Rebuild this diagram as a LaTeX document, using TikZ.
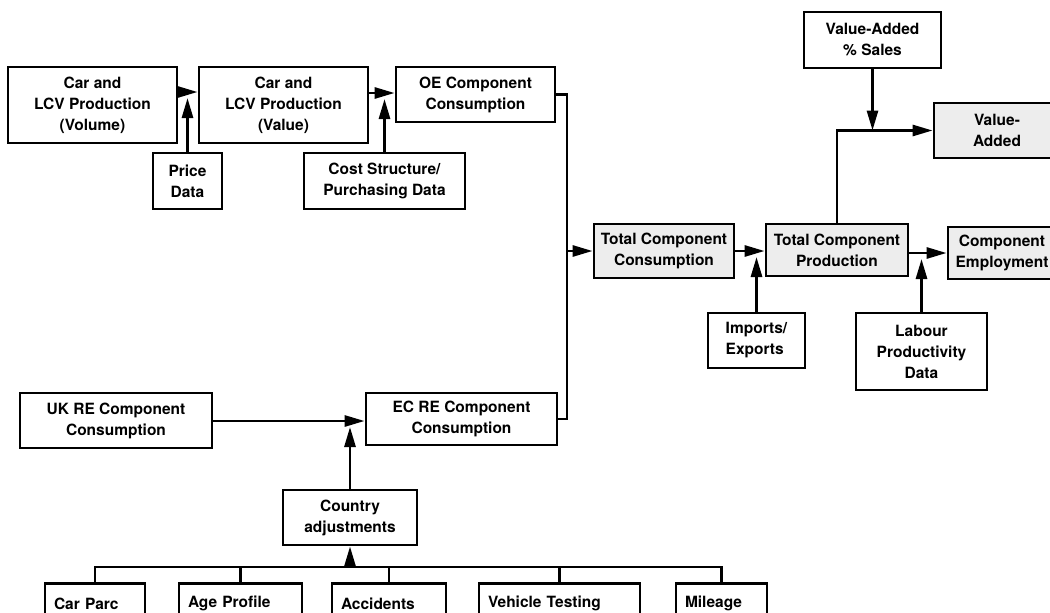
\documentclass[tikz,border=0pt]{standalone}
\usepackage{fontspec}
\setmainfont{TeX Gyre Heros}
\usetikzlibrary{arrows.meta}

\begin{document}
\begin{tikzpicture}[x=1pt,y=-1pt,
    box/.style={draw,line width=2.8pt,align=center,inner sep=1pt,
      font=\bfseries\fontsize{15.5}{21}\selectfont},
    shaded/.style={box,fill=black!7},
    leaf/.style={box,anchor=north,align=left,inner xsep=9pt,minimum height=40pt},
    link/.style={line width=2.8pt},
    arr/.style={line width=2.8pt,-{Triangle[length=20pt,width=11pt]}}]
    \useasboundingbox (0,0) rectangle (1050,613);
    \clip (0,0) rectangle (1050,613);

    % 上排：产量与价值
    \node [box,minimum width=169pt,minimum height=76pt] (vol) at (92.5,105) {Car and\\LCV Production\\(Volume)};
    \node [box,minimum width=169pt,minimum height=76pt] (val) at (283.5,105) {Car and\\LCV Production\\(Value)};
    \node [box,minimum width=159pt,minimum height=55pt] (oe) at (475.5,94.5) {OE Component\\Consumption};
    \node [box,minimum width=69pt,minimum height=56pt] (price) at (187.5,181) {Price\\Data};
    \node [box,minimum width=161pt,minimum height=56pt] (cost) at (384.5,181) {Cost Structure/\\Purchasing Data};

    % 中排：总量
    \node [shaded,minimum width=140pt,minimum height=54pt] (tcons) at (664,251) {Total Component\\Consumption};
    \node [shaded,minimum width=142pt,minimum height=52pt] (tprod) at (837,250) {Total Component\\Production};
    \node [shaded,minimum width=108pt,minimum height=52pt] (cemp) at (1002,253) {Component\\Employment};
    \node [shaded,minimum width=126pt,minimum height=55pt] (vadd) at (997,130.5) {Value-\\Added};
    \node [box,minimum width=137pt,minimum height=56pt] (vas) at (872.5,40) {Value-Added\\\% Sales};
    \node [box,align=left,minimum width=97pt,minimum height=55pt] (imp) at (756.5,340.5) {Imports/\\Exports};
    \node [box,minimum width=131pt,minimum height=77pt] (lab) at (921.5,351.5) {Labour\\Productivity\\Data};

    % 下排：售后市场
    \node [box,minimum width=192pt,minimum height=55pt] (uk) at (116,420.5) {UK RE Component\\Consumption};
    \node [box,minimum width=191pt,minimum height=52pt] (ec) at (461.5,419) {EC RE Component\\Consumption};
    \node [box,minimum width=134pt,minimum height=55pt] (ctry) at (350,517.5) {Country\\adjustments};

    % 底部数据框
    \node [leaf,text width=82pt] (parc) at (95,582) {Car Parc};
    \node [leaf,text width=105pt] (age) at (240.5,582) {Age Profile};
    \node [leaf,text width=96pt] (acc) at (389,582) {Accidents};
    \node [leaf,text width=143pt] (test) at (559.5,582) {Vehicle Testing};
    \node [leaf,text width=73pt] (mile) at (721.5,582) {Mileage};

    % 接入点
    \coordinate (p1) at (187.5,92);
    \coordinate (p2) at (384.5,93);
    \coordinate (merge) at (567,251);
    \coordinate (p3) at (756.5,251);
    \coordinate (p5) at (921.5,253);
    \coordinate (p6) at (350,421);
    \coordinate (bus) at (350,567);

    % 连线
    \draw[arr] (vol.east |- p1) -- (val.west |- p1);
    \draw[arr,shorten >=6pt] (price) -- (p1);
    \draw[arr] (val.east |- p2) -- (oe.west |- p2);
    \draw[arr,shorten >=6pt] (cost) -- (p2);
    \draw[link] (oe.east) -| (merge) |- (ec.east);
    \draw[arr] (merge) -- (tcons.west);
    \draw[arr] (tcons.east) -- (tprod.west |- tcons.east);
    \draw[arr,shorten >=6pt] (imp) -- (p3);
    \draw[arr] (tprod.north) |- (vadd.west);
    \draw[arr] (vas) -- (vas |- vadd.west);
    \draw[arr] (tprod.east |- p5) -- (cemp.west |- p5);
    \draw[arr,shorten >=6pt] (lab) -- (p5);
    \draw[arr] (uk.east |- p6) -- (ec.west |- p6);
    \draw[arr,shorten >=6pt] (ctry) -- (p6);
    \foreach \n in {parc,age,acc,test,mile}
      \draw[link] (\n.north) |- (bus);
    \draw[arr] (bus) -- (ctry.south);

\end{tikzpicture}
\end{document}
